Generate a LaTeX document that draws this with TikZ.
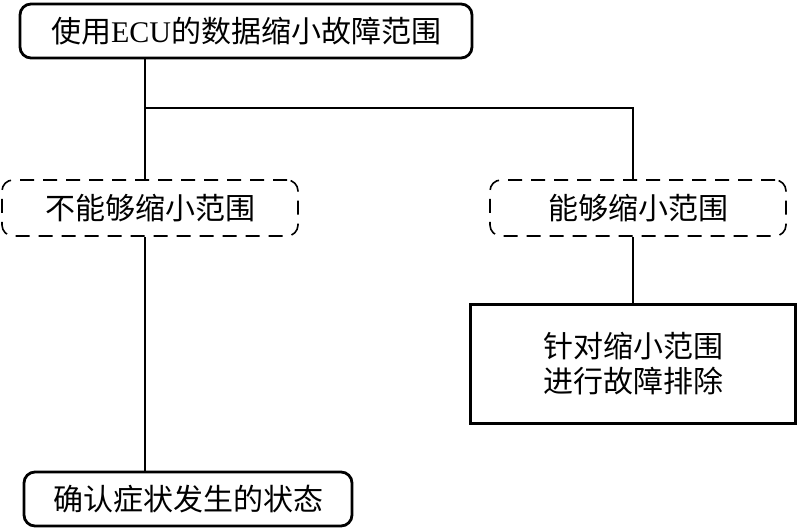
\documentclass[tikz,border=0pt]{standalone}
\usepackage{fontspec}
\setmainfont{Liberation Serif}
\newfontfamily\cjk{Noto Sans CJK SC}
\begin{document}
\begin{tikzpicture}[x=1pt,y=-1pt,
  txt/.style={font=\fontsize{30}{35}\selectfont\cjk, align=center, inner sep=0pt},
  roundbox/.style={txt, draw, line width=2.8pt, rounded corners=11pt},
  dashbox/.style={txt, draw, line width=1.6pt, rounded corners=11pt, dash pattern=on 14pt off 9pt},
  sqbox/.style={txt, draw, line width=3pt},
  conn/.style={line width=1.7pt}]
\useasboundingbox (0,0) rectangle (800,529);
\node[roundbox, minimum width=452pt, minimum height=54pt] (top) at (246,31) {使用{\rmfamily ECU}的数据缩小故障范围};
\node[dashbox, minimum width=296pt, minimum height=56pt] (L) at (150,208) {不能够缩小范围};
\node[dashbox, minimum width=296pt, minimum height=56pt] (R) at (638,208) {能够缩小范围};
\node[sqbox, minimum width=325pt, minimum height=119pt] (S) at (633,364) {针对缩小范围\\进行故障排除};
\node[roundbox, minimum width=328pt, minimum height=54pt] (B) at (188,499) {确认症状发生的状态};
\coordinate (j) at (145,108);
\draw[conn] (top.south -| j) -- (L.north -| j);
\draw[conn] (j) -- (j -| S.north) -- (R.north -| S.north);
\draw[conn] (L.south -| j) -- (B.north -| j);
\draw[conn] (R.south -| S.north) -- (S.north);
\end{tikzpicture}
\end{document}
